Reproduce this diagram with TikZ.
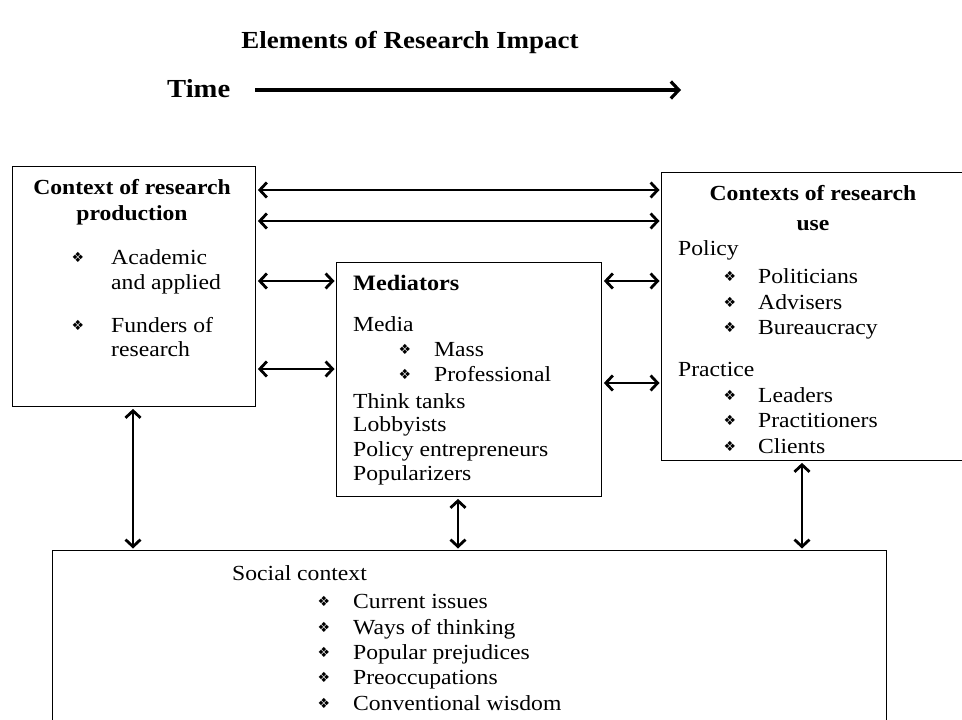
\documentclass[tikz,border=0pt]{standalone}
\usepackage{fontspec}
\setmainfont{Liberation Serif}[FakeStretch=1.1]
\newfontfamily\symfont{DejaVu Sans}
\usetikzlibrary{arrows.meta}
\tikzset{
  box/.style={draw, line width=1.4pt, inner sep=0pt, anchor=north west},
  txt/.style={font=\fontsize{21.5}{25}\selectfont, inner sep=0pt, anchor=base west},
  hd/.style={font=\fontsize{21.5}{25}\selectfont\bfseries, inner sep=0pt, anchor=base},
  hdl/.style={font=\fontsize{22}{25}\selectfont\bfseries, inner sep=0pt, anchor=base west},
  bul/.style={font=\symfont\fontsize{14}{14}\selectfont, inner sep=0pt, anchor=center},
  biarrow/.style={line width=2.8pt, {Straight Barb[length=7pt,width=15pt]}-{Straight Barb[length=7pt,width=15pt]}, shorten >=1.5pt, shorten <=1.5pt},
  timearrow/.style={line width=3.2pt, -{Straight Barb[length=8pt,width=17pt]}}
}
\begin{document}
\begin{tikzpicture}[x=1pt,y=-1pt]
\useasboundingbox (0,0) rectangle (962,720);
\clip (0,0) rectangle (962,720);
% title and time
\node[font=\fontsize{24.5}{30}\selectfont\bfseries, inner sep=0pt, anchor=base] (title) at (410,48) {Elements of Research Impact};
\node[font=\fontsize{26}{30}\selectfont\bfseries, inner sep=0pt, anchor=base west] (time) at (167,97) {Time};
\coordinate (tend) at (681,90);
\coordinate (tstart) at (255,90);
\draw[timearrow] (tstart) -- (tend);
% boxes
\node[box, minimum width=243pt, minimum height=240pt] (prod) at (12,166) {};
\node[box, minimum width=265pt, minimum height=234pt] (med) at (336,262) {};
\node[box, minimum width=330pt, minimum height=288pt] (use) at (661,172) {};
\node[box, minimum width=834pt, minimum height=200pt] (soc) at (52,550) {};
% production text
\node[hd] (p1) at (132,194) {Context of research};
\node[hd] (p2) at (132,220) {production};
\node[bul] (pb1) at (78,257) {❖};
\node[txt] (p3) at (111,264) {Academic};
\node[txt] (p4) at (111,289) {and applied};
\node[bul] (pb2) at (78,325) {❖};
\node[txt] (p5) at (111,332) {Funders of};
\node[txt] (p6) at (111,356) {research};
% mediators text
\node[hdl] (m0) at (353,290) {Mediators};
\node[txt] (m1) at (353,331) {Media};
\node[bul] (mb1) at (405,349) {❖};
\node[txt] (m2) at (434,356) {Mass};
\node[bul] (mb2) at (405,374) {❖};
\node[txt] (m3) at (434,381) {Professional};
\node[txt] (m4) at (353,408) {Think tanks};
\node[txt] (m5) at (353,431) {Lobbyists};
\node[txt] (m6) at (353,456) {Policy entrepreneurs};
\node[txt] (m7) at (353,480) {Popularizers};
% use text
\node[hd] (u1) at (813,200) {Contexts of research};
\node[hd] (u2) at (813,230) {use};
\node[txt] (u3) at (678,255) {Policy};
\node[bul] (ub1) at (730,276) {❖};
\node[txt] (u4) at (758,283) {Politicians};
\node[bul] (ub2) at (730,302) {❖};
\node[txt] (u5) at (758,309) {Advisers};
\node[bul] (ub3) at (730,327) {❖};
\node[txt] (u6) at (758,334) {Bureaucracy};
\node[txt] (u7) at (678,376) {Practice};
\node[bul] (ub4) at (730,395) {❖};
\node[txt] (u8) at (758,402) {Leaders};
\node[bul] (ub5) at (730,420) {❖};
\node[txt] (u9) at (758,427) {Practitioners};
\node[bul] (ub6) at (730,446) {❖};
\node[txt] (u10) at (758,453) {Clients};
% social text
\node[txt] (s0) at (232,580) {Social context};
\node[bul] (sb1) at (324,601) {❖};
\node[txt] (s1) at (353,608) {Current issues};
\node[bul] (sb2) at (324,627) {❖};
\node[txt] (s2) at (353,634) {Ways of thinking};
\node[bul] (sb3) at (324,652) {❖};
\node[txt] (s3) at (353,659) {Popular prejudices};
\node[bul] (sb4) at (324,677) {❖};
\node[txt] (s4) at (353,684) {Preoccupations};
\node[bul] (sb5) at (324,703) {❖};
\node[txt] (s5) at (353,710) {Conventional wisdom};
% connectors
\draw[biarrow] (prod.east |- 0,190) -- (use.west |- 0,190);
\draw[biarrow] (prod.east |- 0,221) -- (use.west |- 0,221);
\draw[biarrow] (prod.east |- 0,281) -- (med.west |- 0,281);
\draw[biarrow] (prod.east |- 0,369) -- (med.west |- 0,369);
\draw[biarrow] (med.east |- 0,281) -- (use.west |- 0,281);
\draw[biarrow] (med.east |- 0,383) -- (use.west |- 0,383);
\draw[biarrow] (prod.south -| 133,0) -- (soc.north -| 133,0);
\draw[biarrow] (med.south -| 458,0) -- (soc.north -| 458,0);
\draw[biarrow] (use.south -| 802,0) -- (soc.north -| 802,0);
\end{tikzpicture}
\end{document}
